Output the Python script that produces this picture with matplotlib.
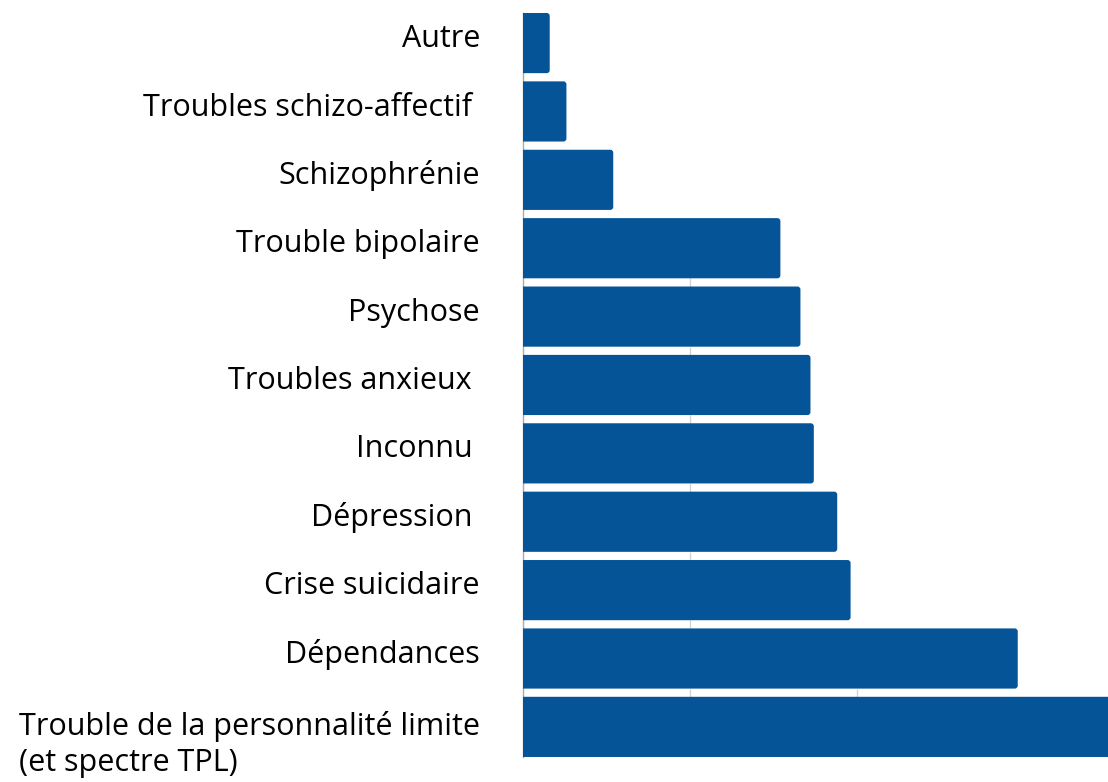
import matplotlib.pyplot as plt
from matplotlib.patches import FancyBboxPatch
from matplotlib.transforms import blended_transform_factory

# categories, de haut en bas
categories = ["Autre", "Troubles schizo-affectif ", "Schizophrénie", "Trouble bipolaire",
              "Psychose", "Troubles anxieux ", "Inconnu ", "Dépression ",
              "Crise suicidaire", "Dépendances",
              "Trouble de la personnalité limite\n(et spectre TPL)"]
valeurs = [1.6, 2.6, 5.4, 15.4, 16.6, 17.2, 17.4, 18.8, 19.6, 29.6, 38.0]
grille = [10, 20, 30]

bleu = '#045497'
haut = 0.88

plt.rcParams['font.family'] = ['Open Sans', 'DejaVu Sans']

fig = plt.figure(figsize=(11.08, 7.82), dpi=100)
ax = fig.add_axes([0.472, 0.032, 0.528, 0.9514])

pos = list(range(len(categories)))
bars = ax.barh(pos, valeurs, height=haut, color=bleu)

# coins arrondis a droite : on remplace chaque barre par une FancyBboxPatch
for b in bars:
    y0 = b.get_y()
    h = b.get_height()
    w = b.get_width()
    b.set_visible(False)
    p = FancyBboxPatch((-1, y0), w + 1, h,
                       boxstyle="round,pad=0,rounding_size=0.18",
                       mutation_aspect=0.245, facecolor=bleu, edgecolor='none',
                       zorder=3)
    ax.add_patch(p)

# la grille n'est visible qu'entre deux barres qui la depassent
for g in grille:
    for i in range(len(valeurs) - 1):
        if min(valeurs[i], valeurs[i + 1]) > g:
            ax.vlines(g, i + haut / 2, i + 1 - haut / 2, color='#d4d4d4', linewidth=1, zorder=1)

ax.set_xlim(0, 35)
ax.set_ylim(len(categories) - 1 + haut / 2, -haut / 2)
ax.tick_params(left=False, bottom=False, labelbottom=False, labelleft=False)
for s in ['top', 'right', 'bottom']:
    ax.spines[s].set_visible(False)
ax.spines['left'].set_color('#aaaaaa')
ax.spines['left'].set_linewidth(1)

# va='baseline' se cale sur la derniere ligne : on decale les libelles sur 2 lignes
trans = blended_transform_factory(fig.transFigure, ax.transData)
for i, cat in enumerate(categories):
    decalage = 0.58 * cat.count('\n')
    ax.text(480 / 1108, i + 0.06 + decalage, cat, transform=trans, ha='right', va='baseline',
            multialignment='left', fontsize=22, linespacing=1.25)

fig.savefig('out.png', dpi=100)
